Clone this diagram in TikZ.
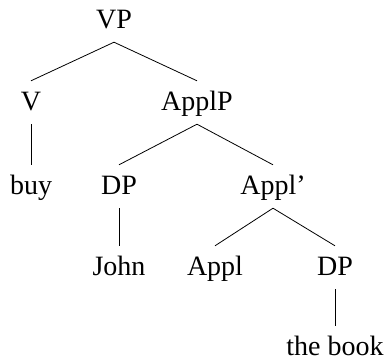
\documentclass[tikz,border=0pt]{standalone}
\usepackage{fontspec}
\setmainfont{Liberation Serif}
\begin{document}
\begin{tikzpicture}[x=1pt,y=-1pt,
  lbl/.style={anchor=base,font=\fontsize{28}{32}\selectfont,text height=19pt,text depth=4pt,inner xsep=2pt,inner ysep=10pt},
  edge/.style={line width=0.8pt}]
\useasboundingbox (0,0) rectangle (389,364);
\node[lbl] (vp) at (114,28) {VP};
\node[lbl] (v) at (31,110) {V};
\node[lbl] (applp) at (197,110) {ApplP};
\node[lbl] (buy) at (31,194) {buy};
\node[lbl] (dpa) at (119,194) {DP};
\node[lbl] (applbar) at (273,194) {Appl'};
\node[lbl] (john) at (119,275) {John};
\node[lbl] (appl) at (215,275) {Appl};
\node[lbl] (dpb) at (335,275) {DP};
\node[lbl] (book) at (335,355) {the book};
\draw[edge] (vp.south) -- (v.north);
\draw[edge] (vp.south) -- (applp.north);
\draw[edge] (v.south) -- (buy.north);
\draw[edge] (applp.south) -- (dpa.north);
\draw[edge] (applp.south) -- (applbar.north);
\draw[edge] (dpa.south) -- (john.north);
\draw[edge] (applbar.south) -- (appl.north);
\draw[edge] (applbar.south) -- (dpb.north);
\draw[edge] (dpb.south) -- (book.north);
\end{tikzpicture}
\end{document}
